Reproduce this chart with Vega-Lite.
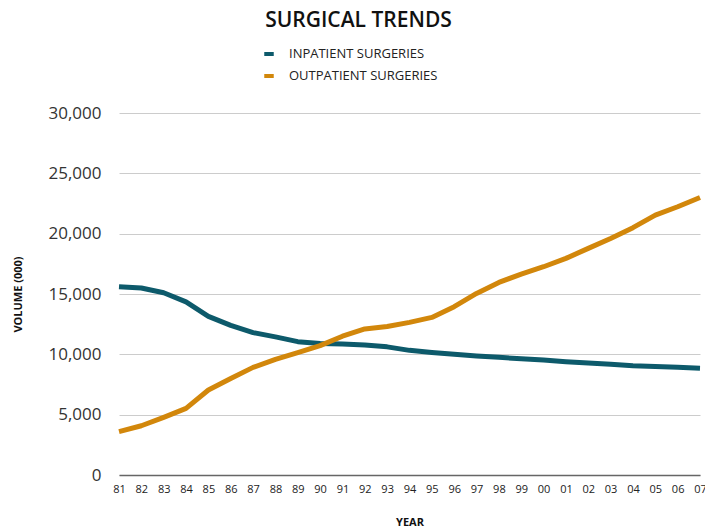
{
  "$schema": "https://vega.github.io/schema/vega-lite/v6.json",
  "autosize": {"type": "none"},
  "width": 581,
  "height": 362,
  "padding": {"left": 119, "top": 113, "right": 5, "bottom": 54},
  "background": "white",
  "title": {
    "text": "SURGICAL TRENDS",
    "font": "Open Sans",
    "fontSize": 21,
    "fontWeight": 600,
    "color": "#111",
    "anchor": "middle",
    "dx": -51,
    "offset": 16
  },
  "data": {
    "values": [
      {"year": "81", "series": "INPATIENT SURGERIES", "volume": 15600},
      {"year": "82", "series": "INPATIENT SURGERIES", "volume": 15500},
      {"year": "83", "series": "INPATIENT SURGERIES", "volume": 15100},
      {"year": "84", "series": "INPATIENT SURGERIES", "volume": 14350},
      {"year": "85", "series": "INPATIENT SURGERIES", "volume": 13150},
      {"year": "86", "series": "INPATIENT SURGERIES", "volume": 12400},
      {"year": "87", "series": "INPATIENT SURGERIES", "volume": 11800},
      {"year": "88", "series": "INPATIENT SURGERIES", "volume": 11450},
      {"year": "89", "series": "INPATIENT SURGERIES", "volume": 11050},
      {"year": "90", "series": "INPATIENT SURGERIES", "volume": 10900},
      {"year": "91", "series": "INPATIENT SURGERIES", "volume": 10850},
      {"year": "92", "series": "INPATIENT SURGERIES", "volume": 10780},
      {"year": "93", "series": "INPATIENT SURGERIES", "volume": 10620},
      {"year": "94", "series": "INPATIENT SURGERIES", "volume": 10330},
      {"year": "95", "series": "INPATIENT SURGERIES", "volume": 10150},
      {"year": "96", "series": "INPATIENT SURGERIES", "volume": 10000},
      {"year": "97", "series": "INPATIENT SURGERIES", "volume": 9860},
      {"year": "98", "series": "INPATIENT SURGERIES", "volume": 9750},
      {"year": "99", "series": "INPATIENT SURGERIES", "volume": 9640},
      {"year": "00", "series": "INPATIENT SURGERIES", "volume": 9530},
      {"year": "01", "series": "INPATIENT SURGERIES", "volume": 9390},
      {"year": "02", "series": "INPATIENT SURGERIES", "volume": 9280},
      {"year": "03", "series": "INPATIENT SURGERIES", "volume": 9170},
      {"year": "04", "series": "INPATIENT SURGERIES", "volume": 9060},
      {"year": "05", "series": "INPATIENT SURGERIES", "volume": 9000},
      {"year": "06", "series": "INPATIENT SURGERIES", "volume": 8920},
      {"year": "07", "series": "INPATIENT SURGERIES", "volume": 8840},
      {"year": "81", "series": "OUTPATIENT SURGERIES", "volume": 3600},
      {"year": "82", "series": "OUTPATIENT SURGERIES", "volume": 4080},
      {"year": "83", "series": "OUTPATIENT SURGERIES", "volume": 4780},
      {"year": "84", "series": "OUTPATIENT SURGERIES", "volume": 5520},
      {"year": "85", "series": "OUTPATIENT SURGERIES", "volume": 7040},
      {"year": "86", "series": "OUTPATIENT SURGERIES", "volume": 8000},
      {"year": "87", "series": "OUTPATIENT SURGERIES", "volume": 8920},
      {"year": "88", "series": "OUTPATIENT SURGERIES", "volume": 9580},
      {"year": "89", "series": "OUTPATIENT SURGERIES", "volume": 10140},
      {"year": "90", "series": "OUTPATIENT SURGERIES", "volume": 10720},
      {"year": "91", "series": "OUTPATIENT SURGERIES", "volume": 11500},
      {"year": "92", "series": "OUTPATIENT SURGERIES", "volume": 12100},
      {"year": "93", "series": "OUTPATIENT SURGERIES", "volume": 12300},
      {"year": "94", "series": "OUTPATIENT SURGERIES", "volume": 12650},
      {"year": "95", "series": "OUTPATIENT SURGERIES", "volume": 13060},
      {"year": "96", "series": "OUTPATIENT SURGERIES", "volume": 13950},
      {"year": "97", "series": "OUTPATIENT SURGERIES", "volume": 15050},
      {"year": "98", "series": "OUTPATIENT SURGERIES", "volume": 15960},
      {"year": "99", "series": "OUTPATIENT SURGERIES", "volume": 16650},
      {"year": "00", "series": "OUTPATIENT SURGERIES", "volume": 17260},
      {"year": "01", "series": "OUTPATIENT SURGERIES", "volume": 17950},
      {"year": "02", "series": "OUTPATIENT SURGERIES", "volume": 18780},
      {"year": "03", "series": "OUTPATIENT SURGERIES", "volume": 19600},
      {"year": "04", "series": "OUTPATIENT SURGERIES", "volume": 20500},
      {"year": "05", "series": "OUTPATIENT SURGERIES", "volume": 21540},
      {"year": "06", "series": "OUTPATIENT SURGERIES", "volume": 22230},
      {"year": "07", "series": "OUTPATIENT SURGERIES", "volume": 23000}
    ]
  },
  "mark": {"type": "line", "strokeWidth": 5, "strokeJoin": "round", "clip": false},
  "encoding": {
    "x": {
      "field": "year",
      "type": "ordinal",
      "sort": null,
      "scale": {"type": "point", "padding": 0},
      "axis": {
        "title": "YEAR",
        "titleFont": "Open Sans",
        "titleFontSize": 11,
        "titleFontWeight": 700,
        "titleColor": "#111",
        "titlePadding": 22,
        "labelFont": "Open Sans",
        "labelFontSize": 11,
        "labelColor": "#222",
        "labelAngle": 0,
        "labelPadding": 8,
        "labelOverlap": false,
        "ticks": false,
        "grid": false,
        "domain": true,
        "domainColor": "#666",
        "domainWidth": 1.5
      }
    },
    "y": {
      "field": "volume",
      "type": "quantitative",
      "scale": {"domain": [0, 30000]},
      "axis": {
        "title": "VOLUME (000)",
        "titleFont": "Open Sans",
        "titleFontSize": 11,
        "titleFontWeight": 700,
        "titleColor": "#111",
        "titlePadding": 24,
        "values": [0, 5000, 10000, 15000, 20000, 25000, 30000],
        "format": ",.0f",
        "labelFont": "Open Sans",
        "labelFontSize": 17,
        "labelColor": "#333",
        "labelPadding": 18,
        "ticks": false,
        "domain": false,
        "grid": true,
        "gridColor": "#cccccc",
        "gridWidth": 1
      }
    },
    "color": {
      "field": "series",
      "type": "nominal",
      "scale": {
        "domain": ["INPATIENT SURGERIES", "OUTPATIENT SURGERIES"],
        "range": ["#0d5a6b", "#d2870b"]
      },
      "legend": {
        "title": null,
        "orient": "none",
        "legendX": 143,
        "legendY": -66,
        "direction": "vertical",
        "symbolType": "stroke",
        "symbolStrokeWidth": 4,
        "symbolSize": 90,
        "labelFont": "Open Sans",
        "labelFontSize": 13,
        "labelLimit": 400,
        "labelColor": "#222",
        "labelOffset": 13,
        "rowPadding": 6
      }
    }
  },
  "config": {"view": {"stroke": null}}
}
